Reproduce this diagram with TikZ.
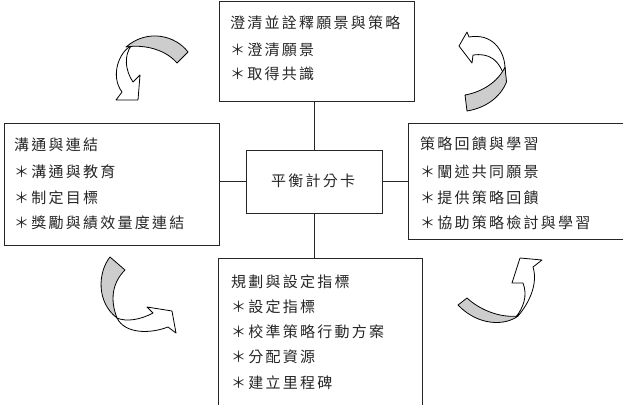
\documentclass[tikz,border=0pt]{standalone}
\usepackage{fontspec}
\newfontfamily\cjk[LetterSpace=15]{Noto Sans CJK TC}
\begin{document}
\begin{tikzpicture}[x=1pt,y=-1pt,
  box/.style={draw=black!85,line width=1pt,minimum width=#1,inner sep=0pt},
  txt/.style={anchor=west,inner sep=0pt,font=\cjk\fontsize{15}{17}\selectfont,text=black!85},
  conn/.style={draw=black!85,line width=1pt},
  arr/.style={draw=black,line width=0.8pt,fill=white,line join=round},
  band/.style={draw=black,line width=0.8pt,fill={rgb,255:red,205;green,205;blue,205},line join=round}]
\useasboundingbox (0,0) rectangle (623,404);
\clip (0,0) rectangle (623,404);
% boxes
\node[box=195pt,minimum height=99pt] (top) at (316.5,51.5) {};
\node[box=215pt,minimum height=122pt] (left) at (111.5,184) {};
\node[box=222pt,minimum height=116pt] (right) at (519,181) {};
\node[box=204pt,minimum height=152pt] (bottom) at (320,334) {};
\node[box=136pt,minimum height=63pt] (ctr) at (314,181.5) {};
% connectors
\draw[conn] (ctr.north) -- (ctr.north |- top.south);
\draw[conn] (ctr.south) -- (ctr.south |- bottom.north);
\draw[conn] (ctr.west) -- (ctr.west -| left.east);
\draw[conn] (ctr.east) -- (ctr.east -| right.west);
% texts
\node[txt] (t1) at (230,23) {澄清並詮釋願景與策略};
\node[txt] (t2) at (230,50) {＊澄清願景};
\node[txt] (t3) at (230,74) {＊取得共識};
\node[txt] (l1) at (14,145) {溝通與連結};
\node[txt] (l2) at (14,172) {＊溝通與教育};
\node[txt] (l3) at (14,198) {＊制定目標};
\node[txt] (l4) at (14,223) {＊獎勵與績效量度連結};
\node[txt] (r1) at (420,144) {策略回饋與學習};
\node[txt] (r2) at (420,172) {＊闡述共同願景};
\node[txt] (r3) at (420,198) {＊提供策略回饋};
\node[txt] (r4) at (420,223) {＊協助策略檢討與學習};
\node[txt] (b1) at (231,282) {規劃與設定指標};
\node[txt] (b2) at (231,307) {＊設定指標};
\node[txt] (b3) at (231,332) {＊校準策略行動方案};
\node[txt] (b4) at (231,357) {＊分配資源};
\node[txt] (b5) at (231,383) {＊建立里程碑};
\node[txt,anchor=center] (c1) at (313,181) {平衡計分卡};
% arrow top-left
\draw[arr] (131,46) .. controls (119,52) and (110,76) .. (122,92) -- (116,100) -- (138,100) -- (140,75) -- (133,82) .. controls (125,70) and (124,56) .. (131,46) -- cycle;
\draw[band] (188,52) .. controls (176,36) and (148,28) .. (126,47) .. controls (145,44) and (166,50) .. (177,63) -- cycle;
% arrow top-right
\draw[arr] (505,67) .. controls (504,50) and (492,33) .. (469,37) -- (467,32) -- (459,46) -- (472,63) -- (473,55) .. controls (488,53) and (500,58) .. (506,82) -- cycle;
\draw[band] (465,95) .. controls (482,92) and (498,82) .. (505,67) -- (506.5,82) .. controls (500,98) and (485,108) .. (467,111) -- cycle;
% arrow bottom-left
\draw[arr] (117,318) .. controls (125,334) and (150,334) .. (168,327) -- (176,333) -- (172,311) -- (147,307) -- (153,313) .. controls (140,320) and (126,322) .. (117,318) -- cycle;
\draw[band] (110,257) .. controls (98,272) and (96,302) .. (117,318) .. controls (110,300) and (112,283) .. (125,270) -- cycle;
% arrow bottom-right
\draw[arr] (518,316) .. controls (530,302) and (538,283) .. (533,267) -- (542,260) -- (520,258) -- (512,283) -- (523,283) .. controls (528,296) and (523,308) .. (516,317) -- cycle;
\draw[band] (467,298) .. controls (480,310) and (500,318) .. (518,316) .. controls (505,326) and (478,326) .. (458,305) -- cycle;
\end{tikzpicture}
\end{document}
